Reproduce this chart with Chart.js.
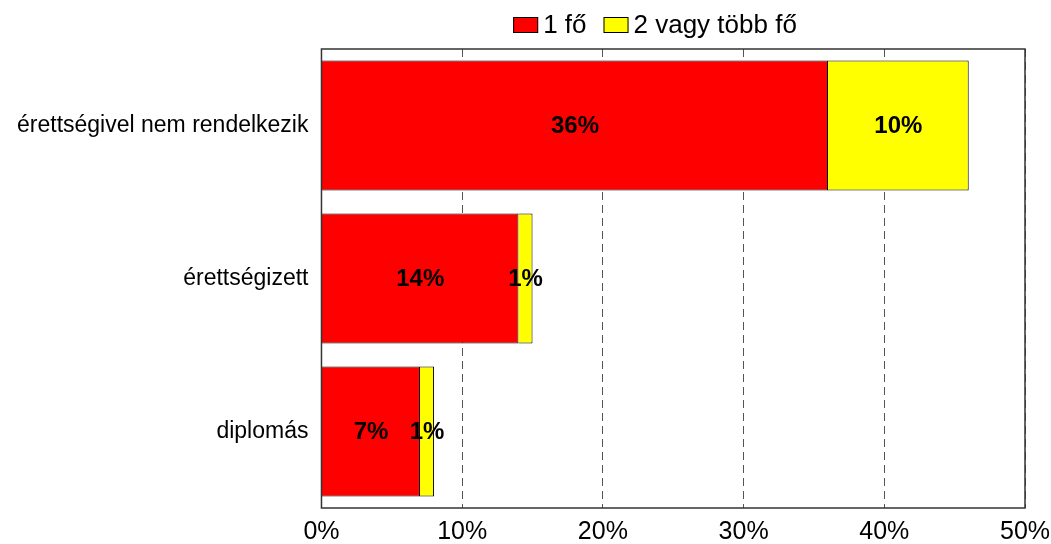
<!DOCTYPE html>
<html>
<head>
<meta charset="utf-8">
<script src="https://cdn.jsdelivr.net/npm/chart.js@4.4.0/dist/chart.umd.min.js"></script>
<style>
    html, body { margin: 0; padding: 0; background: #fff; }
    #wrap { width: 1051px; height: 544px; }
</style>
</head>
<body>
<div id="wrap"><canvas id="chart"></canvas></div>
<script>
// chart data
const categories = ['érettségivel nem rendelkezik', 'érettségizett', 'diplomás'];
const onePerson = [36, 14, 7];
const twoOrMore = [10, 1, 1];
const xTicks = [0, 10, 20, 30, 40, 50];

const FONT = 'Arial, "Liberation Sans", sans-serif';

// draws the value label in the middle of each bar
const barLabels = {
    id: 'barLabels',
    afterDatasetsDraw(chart) {
        const ctx = chart.ctx;
        ctx.save();
        ctx.font = 'bold 24px ' + FONT;
        ctx.fillStyle = '#000';
        ctx.textAlign = 'center';
        ctx.textBaseline = 'middle';
        chart.data.datasets.forEach((ds, i) => {
            chart.getDatasetMeta(i).data.forEach((bar, j) => {
                const p = bar.getProps(['x', 'y', 'base'], true);
                ctx.fillText(ds.data[j] + '%', (p.x + p.base) / 2, p.y + 1);
            });
        });
        ctx.restore();
    }
};

// frame around the plot area
const plotFrame = {
    id: 'plotFrame',
    afterDraw(chart) {
        const a = chart.chartArea;
        const ctx = chart.ctx;
        ctx.save();
        ctx.strokeStyle = '#333';
        ctx.lineWidth = 1.5;
        ctx.strokeRect(a.left, a.top, a.right - a.left, a.bottom - a.top);
        ctx.restore();
    }
};

// compact legend at the top (small gap between box and text)
const topLegend = {
    id: 'topLegend',
    afterDraw(chart) {
        const ctx = chart.ctx;
        const items = chart.data.datasets;
        ctx.save();
        ctx.font = '26px ' + FONT;
        const boxW = 25, boxH = 16, gap = 5, itemGap = 17;
        let total = 0;
        items.forEach((ds, i) => {
            total += boxW + gap + ctx.measureText(ds.label).width + (i < items.length - 1 ? itemGap : 0);
        });
        const cy = 25;
        let x = 655 - total / 2;
        items.forEach(ds => {
            ctx.fillStyle = ds.backgroundColor;
            ctx.fillRect(x, cy - boxH / 2, boxW, boxH);
            ctx.strokeStyle = '#000';
            ctx.lineWidth = 1;
            ctx.strokeRect(x + 0.5, cy - boxH / 2 + 0.5, boxW - 1, boxH - 1);
            x += boxW + gap;
            ctx.fillStyle = '#000';
            ctx.textBaseline = 'middle';
            ctx.fillText(ds.label, x, cy + 1);
            x += ctx.measureText(ds.label).width + itemGap;
        });
        ctx.restore();
    }
};

new Chart(document.getElementById('chart'), {
    type: 'bar',
    data: {
        labels: categories,
        datasets: [
            {
                label: '1 fő',
                data: onePerson,
                backgroundColor: '#ff0000',
                borderColor: '#000',
                borderWidth: 1
            },
            {
                label: '2 vagy több fő',
                data: twoOrMore,
                backgroundColor: '#ffff00',
                borderColor: '#000',
                borderWidth: 1
            }
        ]
    },
    options: {
        indexAxis: 'y',
        responsive: true,
        maintainAspectRatio: false,
        animation: false,
        barPercentage: 0.85,
        categoryPercentage: 1,
        layout: { padding: { top: 49, right: 0, left: 4, bottom: 0 } },
        scales: {
            x: {
                stacked: true,
                min: 0,
                max: 50,
                afterBuildTicks: axis => { axis.ticks = xTicks.map(v => ({ value: v })); },
                afterFit: axis => { axis.paddingRight = 26; axis.height = 36; },
                grid: { color: '#555', drawTicks: false, lineWidth: 1 },
                border: { display: false, dash: [8, 5] },
                ticks: {
                    color: '#000',
                    padding: 12,
                    font: { family: FONT, size: 25, lineHeight: 1 },
                    callback: v => v + '%'
                }
            },
            y: {
                stacked: true,
                grid: { display: false, drawTicks: false },
                border: { display: false },
                ticks: {
                    color: '#000',
                    padding: 13,
                    font: { family: FONT, size: 23 }
                }
            }
        },
        plugins: {
            legend: { display: false },
            tooltip: { enabled: false }
        }
    },
    plugins: [barLabels, plotFrame, topLegend]
});
</script>
</body>
</html>
